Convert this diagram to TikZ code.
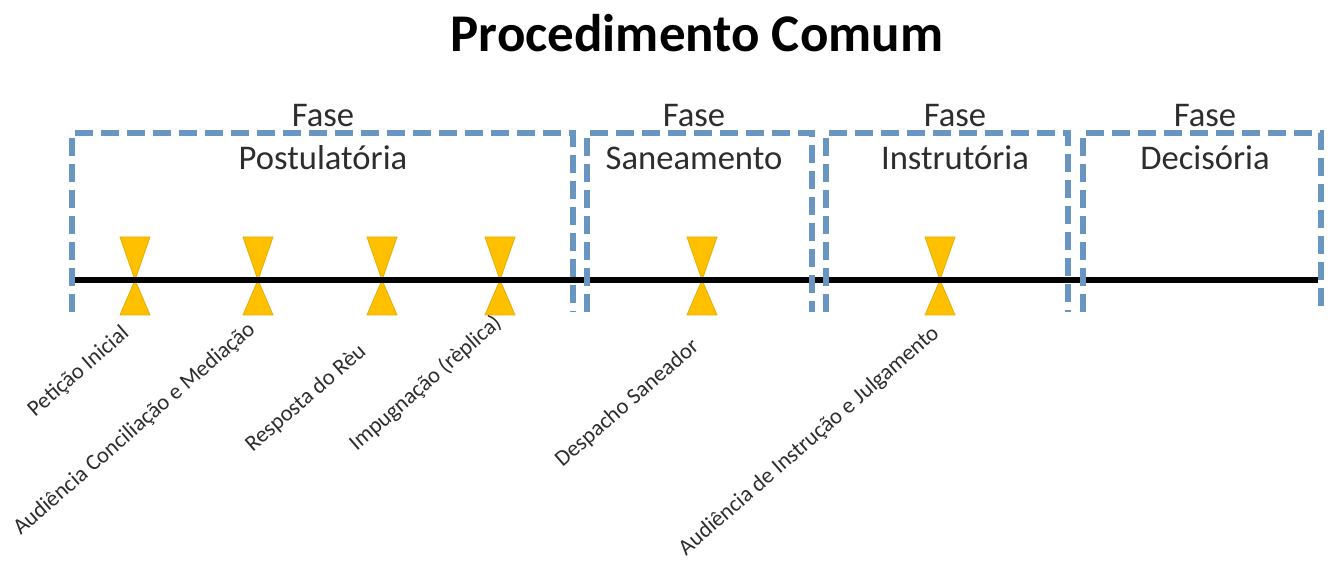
\documentclass[tikz,border=0pt]{standalone}
\usepackage{fontspec}
\setmainfont{Carlito}
\usepackage{tikz}
\usetikzlibrary{calc, positioning}
\definecolor{myblue}{RGB}{104, 150, 192}
\definecolor{mygold}{RGB}{255, 192, 0}
\definecolor{mygray}{RGB}{45, 45, 45}

\tikzset{
    phasebox/.style={draw=myblue, line width=2.7pt, dash pattern=on 9pt off 4pt},
    phasetext/.style={text=mygray, font=\fontsize{17.3}{20}\selectfont},
    evlabel/.style={text=mygray, font=\fontsize{11.3}{13}\selectfont, rotate=41, anchor=north east, inner sep=1pt},
    hourglass/.style={fill=mygold, draw=mygold!90!black, line width=0.4pt}
}

\begin{document}
\begin{tikzpicture}[x=0.5pt, y=0.5pt]
        \useasboundingbox (0,0) rectangle (1334,568);

        % Titulo
        \node[text=black, font=\fontsize{26.5}{30}\selectfont\bfseries] (title) at (697,535) {Procedimento Comum};

        % Marcos do processo
        \coordinate (m1) at (135,288);
        \coordinate (m2) at (258,288);
        \coordinate (m3) at (382,288);
        \coordinate (m4) at (500,288);
        \coordinate (m5) at (702,288);
        \coordinate (m6) at (940,288);

        \begin{scope}[shift={(m1)}]
            \filldraw[hourglass] (-15,43) -- (15,43) -- (0,0) -- cycle;
            \filldraw[hourglass] (-15,-35) -- (15,-35) -- (0,0) -- cycle;
        \end{scope}
        \begin{scope}[shift={(m2)}]
            \filldraw[hourglass] (-15,43) -- (15,43) -- (0,0) -- cycle;
            \filldraw[hourglass] (-15,-35) -- (15,-35) -- (0,0) -- cycle;
        \end{scope}
        \begin{scope}[shift={(m3)}]
            \filldraw[hourglass] (-15,43) -- (15,43) -- (0,0) -- cycle;
            \filldraw[hourglass] (-15,-35) -- (15,-35) -- (0,0) -- cycle;
        \end{scope}
        \begin{scope}[shift={(m4)}]
            \filldraw[hourglass] (-15,43) -- (15,43) -- (0,0) -- cycle;
            \filldraw[hourglass] (-15,-35) -- (15,-35) -- (0,0) -- cycle;
        \end{scope}
        \begin{scope}[shift={(m5)}]
            \filldraw[hourglass] (-15,43) -- (15,43) -- (0,0) -- cycle;
            \filldraw[hourglass] (-15,-35) -- (15,-35) -- (0,0) -- cycle;
        \end{scope}
        \begin{scope}[shift={(m6)}]
            \filldraw[hourglass] (-15,43) -- (15,43) -- (0,0) -- cycle;
            \filldraw[hourglass] (-15,-35) -- (15,-35) -- (0,0) -- cycle;
        \end{scope}

        % Linha do tempo
        \coordinate (tl-start) at (72,288);
        \coordinate (tl-end) at (1318,288);
        \draw[line width=3pt, black] (tl-start) -- (tl-end);

        % Fases (caixas tracejadas abertas em baixo)
        \draw[phasebox] (72,256) -- (72,435) -- (573,435) -- (573,256);
        \draw[phasebox] (587,256) -- (587,435) -- (812,435) -- (812,256);
        \draw[phasebox] (826,256) -- (826,435) -- (1068,435) -- (1068,256);
        \draw[phasebox] (1083,256) -- (1083,435) -- (1321,435) -- (1321,256);

        \node[phasetext] (fase1) at (323,452) {Fase};
        \node[phasetext] (nome1) at (323,410) {Postulatória};
        \node[phasetext] (fase2) at (694,452) {Fase};
        \node[phasetext] (nome2) at (694,410) {Saneamento};
        \node[phasetext] (fase3) at (955,452) {Fase};
        \node[phasetext] (nome3) at (955,410) {Instrutória};
        \node[phasetext] (fase4) at (1205,452) {Fase};
        \node[phasetext] (nome4) at (1205,410) {Decisória};

        % Rotulos dos marcos
        \node[evlabel] (ev1) at ($(m1)+(-15,-40)$) {Petição Inicial};
        \node[evlabel] (ev2) at ($(m2)+(-12,-36)$) {Audiência Conciliação e Mediação};
        \node[evlabel] (ev3) at ($(m3)+(-25,-58)$) {Resposta do Rèu};
        \node[evlabel] (ev4) at ($(m4)+(-8,-29)$) {Impugnação (rèplica)};
        \node[evlabel] (ev5) at ($(m5)+(-12,-53)$) {Despacho Saneador};
        \node[evlabel] (ev6) at ($(m6)+(-10,-40)$) {Audiência de Instrução e Julgamento};
    \end{tikzpicture}
\end{document}
